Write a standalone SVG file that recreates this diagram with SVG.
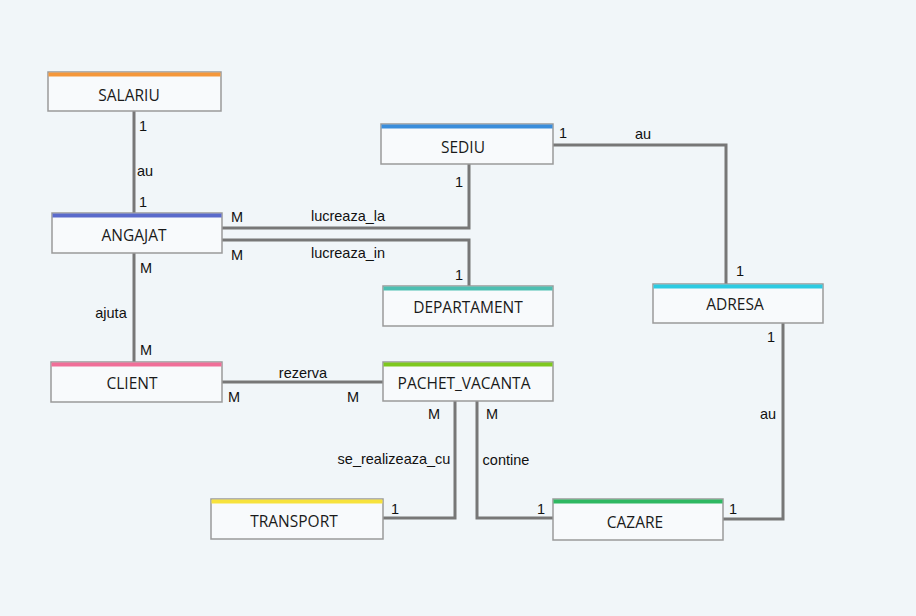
<svg xmlns="http://www.w3.org/2000/svg" width="916" height="616" viewBox="0 0 916 616">
<style>
.box{fill:#f8fafc;stroke:#9a9a9a;stroke-width:1.5}
.nt{font-family:"Open Sans","Liberation Sans",sans-serif;font-size:15.5px;fill:#1a1a1a;text-anchor:middle}
.lb{font-family:"Liberation Sans",sans-serif;font-size:14.5px;fill:#111;text-anchor:middle}
.ln{fill:none;stroke:#777;stroke-width:3}
</style>
<rect width="916" height="616" fill="#f1f6f9"/>
<g id="connectors">
<path class="ln" d="M134,111V213"/>
<path class="ln" d="M134,253V362"/>
<path class="ln" d="M222,228H469V164"/>
<path class="ln" d="M222,240H469V286"/>
<path class="ln" d="M553,145H726V284"/>
<path class="ln" d="M783,323V519H723"/>
<path class="ln" d="M222,382H383"/>
<path class="ln" d="M455,401V518H383"/>
<path class="ln" d="M477,401V518H553"/>
</g>
<g id="labels">
<text class="lb" x="143" y="131">1</text>
<text class="lb" x="145" y="176">au</text>
<text class="lb" x="143" y="207">1</text>
<text class="lb" x="237" y="222">M</text>
<text class="lb" x="348" y="221">lucreaza_la</text>
<text class="lb" x="237" y="260">M</text>
<text class="lb" x="348" y="258">lucreaza_in</text>
<text class="lb" x="459" y="187">1</text>
<text class="lb" x="459" y="280">1</text>
<text class="lb" x="563" y="138">1</text>
<text class="lb" x="643" y="139">au</text>
<text class="lb" x="740" y="276">1</text>
<text class="lb" x="771" y="342">1</text>
<text class="lb" x="768" y="419">au</text>
<text class="lb" x="146" y="273">M</text>
<text class="lb" x="111" y="318">ajuta</text>
<text class="lb" x="146" y="355">M</text>
<text class="lb" x="303" y="378">rezerva</text>
<text class="lb" x="234" y="402">M</text>
<text class="lb" x="353" y="402">M</text>
<text class="lb" x="434" y="419">M</text>
<text class="lb" x="492" y="419">M</text>
<text class="lb" x="394" y="464">se_realizeaza_cu</text>
<text class="lb" x="506" y="465">contine</text>
<text class="lb" x="395" y="514">1</text>
<text class="lb" x="541" y="514">1</text>
<text class="lb" x="733" y="514">1</text>
</g>
<g id="SALARIU"><rect class="box" x="48" y="72" width="173" height="39"/><rect x="48.5" y="72.5" width="172" height="4" fill="#f5973a"/><text class="nt" x="129" y="101">SALARIU</text></g>
<g id="ANGAJAT"><rect class="box" x="52" y="213" width="170" height="40"/><rect x="52.5" y="213.5" width="169" height="4" fill="#5a6acb"/><text class="nt" x="134" y="241">ANGAJAT</text></g>
<g id="SEDIU"><rect class="box" x="381" y="124" width="172" height="40"/><rect x="381.5" y="124.5" width="171" height="4" fill="#3a8ddb"/><text class="nt" x="463" y="153">SEDIU</text></g>
<g id="DEPARTAMENT"><rect class="box" x="383" y="286" width="170" height="40"/><rect x="383.5" y="286.5" width="169" height="4" fill="#4dbfb2"/><text class="nt" x="468" y="313">DEPARTAMENT</text></g>
<g id="ADRESA"><rect class="box" x="653" y="284" width="170" height="39"/><rect x="653.5" y="284.5" width="169" height="4" fill="#2ccbe2"/><text class="nt" x="735" y="310">ADRESA</text></g>
<g id="CLIENT"><rect class="box" x="51" y="362" width="171" height="40"/><rect x="51.5" y="362.5" width="170" height="4" fill="#f06e98"/><text class="nt" x="132" y="389">CLIENT</text></g>
<g id="PACHET_VACANTA"><rect class="box" x="383" y="362" width="170" height="39"/><rect x="383.5" y="362.5" width="169" height="4" fill="#7ec81e"/><text class="nt" x="464" y="389">PACHET_VACANTA</text></g>
<g id="TRANSPORT"><rect class="box" x="211" y="499" width="172" height="40"/><rect x="211.5" y="499.5" width="171" height="4" fill="#f7e23c"/><text class="nt" x="294" y="527">TRANSPORT</text></g>
<g id="CAZARE"><rect class="box" x="553" y="499" width="170" height="41"/><rect x="553.5" y="499.5" width="169" height="4" fill="#2fb862"/><text class="nt" x="635" y="528">CAZARE</text></g>
</svg>
